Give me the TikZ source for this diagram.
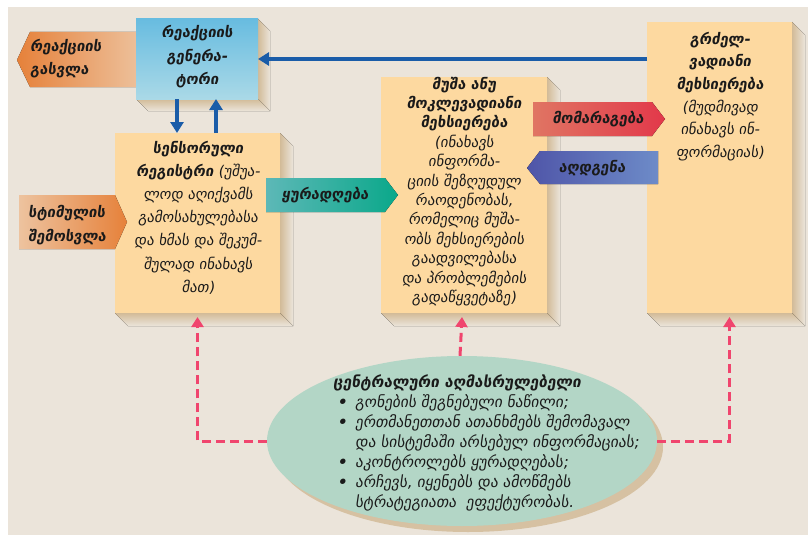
\documentclass[tikz,border=0pt]{standalone}
\usepackage{fontspec}
\setmainfont{DejaVu Sans}[FakeSlant=0.15]
\usetikzlibrary{arrows.meta,shapes.geometric,calc}
\definecolor{bgc}{HTML}{EBE4DA}
\definecolor{peach}{HTML}{FDD9A0}
\definecolor{shadowc}{HTML}{D2BB98}
\definecolor{arrblue}{HTML}{1A5CA8}
\definecolor{pinkc}{HTML}{F0456E}
\definecolor{ellc}{HTML}{B3D6C6}
\definecolor{txtc}{HTML}{1A1A1A}
\definecolor{genTop}{HTML}{68BCE0}
\definecolor{genBot}{HTML}{AAD9E7}
\definecolor{orA}{HTML}{E6813A}
\definecolor{orB}{HTML}{EDC39F}
\definecolor{tealA}{HTML}{5DB8B7}
\definecolor{tealB}{HTML}{0AA88A}
\definecolor{redA}{HTML}{E07563}
\definecolor{redB}{HTML}{E2384A}
\definecolor{bluA}{HTML}{4F55A8}
\definecolor{bluB}{HTML}{6D8BC8}
\tikzset{
  boxnode/.style={rectangle, inner sep=0pt, outer sep=0pt, anchor=north west, fill=peach},
  txt/.style={inner sep=0pt, align=center, text=txtc, font=\fontsize{14.8}{#1}\selectfont},
  txt/.default=22,
  ltxt/.style={inner sep=0pt, align=left, anchor=west, text=txtc, font=\fontsize{14.8}{#1}\selectfont},
  ltxt/.default=22,
  bluearr/.style={draw=arrblue, line width=3.5pt, -{Triangle[length=11pt,width=13pt]}},
  pinkarr/.style={draw=pinkc, line width=3pt, dash pattern=on 9pt off 5pt, -{Triangle[length=10pt,width=12pt]}},
}
\newcommand{\boxshadow}[5]{% x1 y1 x2 y2 depth
  \fill[left color=shadowc, right color=bgc] (#3,#2) -- (#3+#5,#2+#5) -- (#3+#5,#4+#5) -- (#3,#4) -- cycle;
  \fill[top color=shadowc, bottom color=bgc] (#1,#4) -- (#3,#4) -- (#3+#5,#4+#5) -- (#1+#5,#4+#5) -- cycle;
}
\newcommand{\bl}{\hspace*{4pt}\makebox[18pt][l]{\bfseries •}}
\newcommand{\cl}{\hspace*{22pt}}
\begin{document}
\begin{tikzpicture}[x=1pt,y=-1pt]
\useasboundingbox (0,0) rectangle (808,535);
\fill[white] (0,0) rectangle (808,535);
\fill[bgc] (8,7) rectangle (808,535);

% shadows
\boxshadow{136}{19}{258}{99}{12}
\boxshadow{115}{133}{280}{313}{13}
\boxshadow{381}{77}{547}{313}{13}
\boxshadow{647}{22}{792}{313}{13}

% reaction output pentagon (under generator)
\fill[left color=orA, right color=orB] (17,60) -- (30,32) -- (144,32) -- (144,87) -- (30,87) -- cycle;

% boxes
\node[boxnode, minimum width=122pt, minimum height=80pt, fill=none, top color=genTop, bottom color=genBot] (gen) at (136,19) {};
\node[boxnode, minimum width=165pt, minimum height=180pt] (sens) at (115,133) {};
\node[boxnode, minimum width=166pt, minimum height=236pt] (wm) at (381,77) {};
\node[boxnode, minimum width=145pt, minimum height=291pt] (ltm) at (647,22) {};

% stimulus pentagon
\fill[left color=orB, right color=orA] (19,195) -- (115,195) -- (127,222) -- (115,249) -- (19,249) -- cycle;
% attention pentagon
\fill[left color=tealA, right color=tealB] (266,178) -- (385,178) -- (398,195) -- (385,212) -- (266,212) -- cycle;
% rehearsal pentagon
\fill[left color=redA, right color=redB] (533,102) -- (652,102) -- (665,119) -- (652,136) -- (533,136) -- cycle;
% retrieval pentagon
\fill[left color=bluA, right color=bluB] (527,168) -- (540,151) -- (658,151) -- (658,184) -- (540,184) -- cycle;

% ellipse
\fill[shadowc!85!bgc] (468,447) ellipse [x radius=195pt, y radius=85pt];
\node[ellipse, fill=ellc, minimum width=390pt, minimum height=170pt, inner sep=0pt] (ell) at (462,441) {};

% blue arrows
\draw[bluearr] (gen.east -| ltm.west) -- (gen.east);
\draw[bluearr] ([xshift=-20pt]gen.south) -- ([xshift=-20pt]gen.south |- sens.north);
\draw[bluearr] ([xshift=19pt]gen.south |- sens.north) -- ([xshift=19pt]gen.south);

% dashed pink arrows
\draw[pinkarr] (ell.west) -| ([yshift=-4pt]sens.south);
\draw[pinkarr] ([xshift=-2pt]ell.north) -- ([xshift=-2pt,yshift=-4pt]wm.south);
\draw[pinkarr] (ell.east) -| ([xshift=10pt,yshift=-4pt]ltm.south);

% texts
\node[txt=23.5] (gent) at (197,57) {\bfseries რეაქციის\\\bfseries გენერა-\\\bfseries ტორი};
\node[ltxt=23] (outt) at (30,58.5) {\bfseries რეაქციის\\\bfseries გასვლა};
\node[ltxt=24] (stimt) at (28,225) {\bfseries სტიმულის\\\bfseries შემოსვლა};
\node[txt] (attt) at (325,195) {\bfseries ყურადღება};
\node[txt] (reht) at (598,119) {\bfseries მომარაგება};
\node[txt] (rett) at (592,168) {\bfseries აღდგენა};
\node[txt=23.2] (senst) at (198,217.5) {\bfseries სენსორული\\
  {\bfseries რეგისტრი} (უშუა-\\
  ლოდ აღიქვამს\\
  გამოსახულებასა\\
  და ხმას და შეკუმ-\\
  შულად ინახავს\\
  მათ)};
\node[txt=19.4] (wmt) at (464,191.5) {\bfseries მუშა ანუ\\
  \bfseries მოკლევადიანი\\
  \bfseries მეხსიერება\\
  (ინახავს\\
  ინფორმა-\\
  ციის შეზღუდულ\\
  რაოდენობას,\\
  რომელიც მუშა-\\
  ობს მეხსიერების\\
  გაადვილებასა\\
  და პრობლემების\\
  გადაწყვეტაზე)};
\node[txt=22.6] (ltmt) at (720,96.5) {\bfseries გრძელ-\\
  \bfseries ვადიანი\\
  \bfseries მეხსიერება\\
  (მუდმივად\\
  ინახავს ინ-\\
  ფორმაციას)};
\node[ltxt=20, font=\fontsize{15.4}{20}\selectfont] (ellt) at (333,443) {\bfseries ცენტრალური აღმასრულებელი\\
  \bl გონების შეგნებული ნაწილი;\\
  \bl ერთმანეთთან ათანხმებს შემომავალ\\
  \cl და სისტემაში არსებულ ინფორმაციას;\\
  \bl აკონტროლებს ყურადღებას;\\
  \bl არჩევს, იყენებს და ამოწმებს\\
  \cl სტრატეგიათა\ \ ეფექტურობას.};
\end{tikzpicture}
\end{document}
